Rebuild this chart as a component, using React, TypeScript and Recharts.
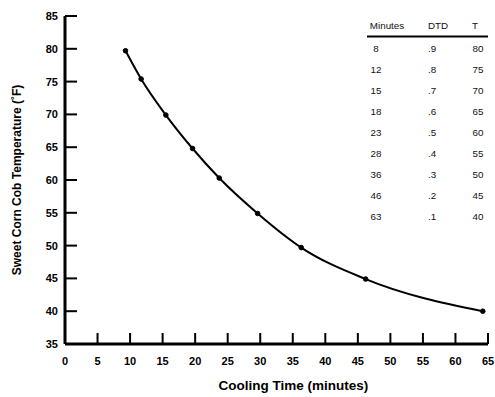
import React from "react";
import { LineChart, Line, XAxis, YAxis } from "recharts";

document.body.style.margin = "0";

// curve points
const coolMinutes = [9.3, 11.7, 15.5, 19.6, 23.7, 29.6, 36.3, 46.2, 64.2];
const cobTemps = [79.7, 75.4, 69.9, 64.8, 60.3, 54.9, 49.7, 44.9, 40.0];

const xTicks = [0, 5, 10, 15, 20, 25, 30, 35, 40, 45, 50, 55, 60, 65];
const yTicks = [35, 40, 45, 50, 55, 60, 65, 70, 75, 80, 85];

// inset table
const tableHeaders = ["Minutes", "DTD", "T"];
const tableMinutes = ["8", "12", "15", "18", "23", "28", "36", "46", "63"];
const tableDTD = [".9", ".8", ".7", ".6", ".5", ".4", ".3", ".2", ".1"];
const tableT = ["80", "75", "70", "65", "60", "55", "50", "45", "40"];

const data = coolMinutes.map((m, i) => ({ minutes: m, temp: cobTemps[i] }));

const FONT = "'Liberation Sans', Arial, Helvetica, sans-serif";

const InsetTable = () => {
  const cols = [tableMinutes, tableDTD, tableT];
  const headX = [387, 438, 475];
  const cellX = [376, 432, 478];
  return (
    <svg
      width={495}
      height={397}
      style={{ position: "absolute", left: 0, top: 0, pointerEvents: "none" }}
    >
      {tableHeaders.map((h, i) => (
        <text
          key={h}
          x={headX[i]}
          y={25}
          textAnchor="middle"
          dominantBaseline="central"
          fontFamily={FONT}
          fontSize={9.8}
          fill="#111"
        >
          {h}
        </text>
      ))}
      <line x1={367} x2={488} y1={36.5} y2={36.5} stroke="#000" strokeWidth={2} />
      {cols.map((col, c) =>
        col.map((v, r) => (
          <text
            key={`${c}-${r}`}
            x={cellX[c]}
            y={48 + r * 21}
            textAnchor="middle"
            dominantBaseline="central"
            fontFamily={FONT}
            fontSize={9.8}
            fill="#111"
          >
            {v}
          </text>
        ))
      )}
    </svg>
  );
};

export default function App() {
  return (
    <div style={{ position: "relative", width: 495, height: 397, background: "#fff" }}>
      <LineChart
        width={495}
        height={397}
        data={data}
        margin={{ top: 16, right: 7, bottom: 0, left: 0 }}
      >
        <XAxis
          type="number"
          dataKey="minutes"
          domain={[0, 65]}
          ticks={xTicks}
          interval={0}
          height={53}
          axisLine={{ stroke: "#000", strokeWidth: 3 }}
          tickLine={{ stroke: "#000", strokeWidth: 2 }}
          tickSize={-11}
          tickMargin={24}
          tick={{ fill: "#000", fontSize: 11, fontWeight: "bold", fontFamily: FONT }}
          label={{
            value: "Cooling Time (minutes)",
            position: "insideBottom",
            offset: 7,
            dx: 17,
            fill: "#000",
            fontSize: 13.5,
            fontWeight: "bold",
            fontFamily: FONT,
          }}
        />
        <YAxis
          type="number"
          domain={[35, 85]}
          ticks={yTicks}
          interval={0}
          width={65}
          axisLine={{ stroke: "#000", strokeWidth: 3 }}
          tickLine={{ stroke: "#000", strokeWidth: 2 }}
          tickSize={-12}
          tickMargin={19}
          tick={{ fill: "#000", fontSize: 11, fontWeight: "bold", fontFamily: FONT }}
          label={{
            value: "Sweet Corn Cob Temperature (˚F)",
            angle: -90,
            position: "insideLeft",
            offset: 17,
            fill: "#000",
            fontSize: 12,
            fontWeight: "bold",
            fontFamily: FONT,
            style: { textAnchor: "middle" },
          }}
        />
        <Line
          type="monotone"
          dataKey="temp"
          stroke="#000"
          strokeWidth={2}
          dot={{ r: 2.3, fill: "#000", stroke: "#000", strokeWidth: 1 }}
          isAnimationActive={false}
        />
      </LineChart>
      <InsetTable />
    </div>
  );
}
